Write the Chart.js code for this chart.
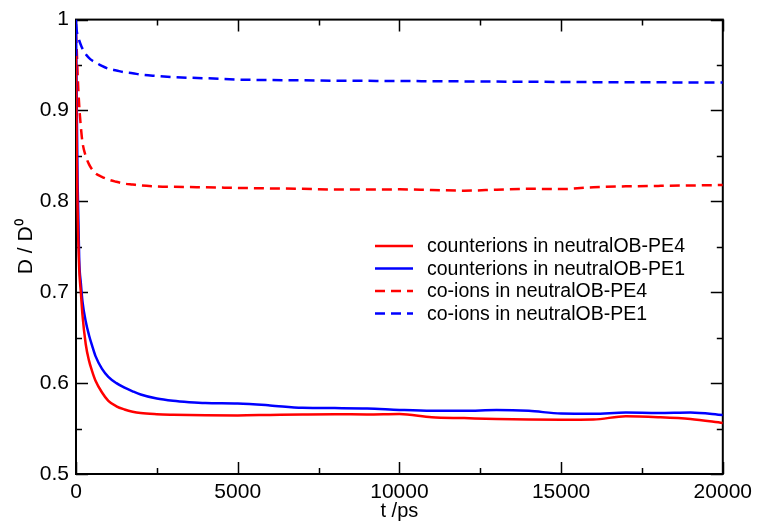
<!DOCTYPE html>
<html>
<head>
<meta charset="utf-8">
<script src="https://cdn.jsdelivr.net/npm/chart.js@4/dist/chart.umd.min.js"></script>
<style>
  html, body { margin: 0; padding: 0; background: #ffffff; }
  #wrap { width: 758px; height: 523px; }
</style>
</head>
<body>
<div id="wrap"><canvas id="c" width="758" height="523"></canvas></div>
<script>
// ---- data ----
const times = [0, 25, 50, 100, 150, 200, 300, 400, 500, 600, 800, 1000, 1250, 1500, 1750, 2000, 2500, 3000, 3500, 4000,
  5000, 6000, 7000, 8000, 9000, 10000, 11000, 12000, 13000, 14000, 15000, 16000, 17000, 18000, 19000, 20000];

const counterPE4 = [0.96, 0.85, 0.79, 0.725, 0.70, 0.675, 0.643, 0.625, 0.613, 0.603, 0.590, 0.5805, 0.5745, 0.571, 0.5685, 0.567, 0.5658, 0.5652, 0.5648, 0.5646,
  0.5645, 0.565, 0.5655, 0.5658, 0.5655, 0.566, 0.5625, 0.5615, 0.5605, 0.56, 0.5598, 0.56, 0.5635, 0.5625, 0.5605, 0.5562];

const counterPE1 = [1.0, 0.90, 0.82, 0.735, 0.71, 0.69, 0.668, 0.653, 0.641, 0.630, 0.616, 0.607, 0.600, 0.595, 0.591, 0.5875, 0.583, 0.5805, 0.579, 0.578,
  0.5775, 0.5755, 0.5728, 0.5725, 0.5722, 0.5705, 0.5695, 0.5695, 0.5705, 0.5695, 0.5665, 0.5662, 0.5676, 0.5672, 0.5678, 0.565];

const coPE4 = [0.985, 0.965, 0.94, 0.905, 0.882, 0.865, 0.85, 0.841, 0.835, 0.831, 0.827, 0.824, 0.8215, 0.8195, 0.8185, 0.8175, 0.8165, 0.816, 0.8157, 0.8155,
  0.8148, 0.8142, 0.8138, 0.813, 0.813, 0.8132, 0.8125, 0.8118, 0.8128, 0.8138, 0.8135, 0.8155, 0.8165, 0.817, 0.8175, 0.818];

const coPE1 = [0.995, 0.987, 0.983, 0.977, 0.972, 0.968, 0.962, 0.958, 0.955, 0.953, 0.949, 0.946, 0.944, 0.942, 0.941, 0.9395, 0.938, 0.9368, 0.936, 0.9355,
  0.934, 0.9335, 0.9332, 0.9328, 0.9326, 0.9325, 0.9322, 0.932, 0.9318, 0.9316, 0.9314, 0.9312, 0.931, 0.931, 0.9308, 0.9308];

const seriesLabels = ["counterions in neutralOB-PE4", "counterions in neutralOB-PE1", "co-ions in neutralOB-PE4", "co-ions in neutralOB-PE1"];
const xTickValues = [0, 5000, 10000, 15000, 20000];
const yTickValues = [0.5, 0.6, 0.7, 0.8, 0.9, 1];

function pts(vals) { return times.map((t, i) => ({ x: t, y: vals[i] })); }

const RED = '#ff0000', BLUE = '#0000ff';
const DASH = [10, 6];
const FONT = '"Liberation Sans", Arial, sans-serif';

// frame + inward mirrored ticks
const framePlugin = {
  id: 'frame',
  beforeDatasetsDraw(chart) {
    const { ctx, chartArea: a, scales } = chart;
    const xs = scales.x, ys = scales.y;
    ctx.save();
    ctx.strokeStyle = '#000';
    ctx.lineWidth = 1.5;
    ctx.beginPath();
    for (let v = 0; v <= 20000; v += 2500) {
      const px = Math.round(xs.getPixelForValue(v)) + 0.5;
      const len = (v % 5000 === 0) ? 12 : 6;
      ctx.moveTo(px, a.bottom); ctx.lineTo(px, a.bottom - len);
      ctx.moveTo(px, a.top); ctx.lineTo(px, a.top + len);
    }
    for (let k = 0; k <= 10; k++) {
      const v = 0.5 + k * 0.05;
      const py = Math.round(ys.getPixelForValue(v)) + 0.5;
      const len = (k % 2 === 0) ? 12 : 6;
      ctx.moveTo(a.left, py); ctx.lineTo(a.left + len, py);
      ctx.moveTo(a.right, py); ctx.lineTo(a.right - len, py);
    }
    ctx.stroke();
    ctx.lineWidth = 2;
    ctx.strokeRect(a.left, a.top, a.right - a.left, a.bottom - a.top);
    ctx.restore();
  }
};

// legend drawn inside the plot
const legendPlugin = {
  id: 'insideLegend',
  afterDraw(chart) {
    const { ctx } = chart;
    const x0 = 375, x1 = 413, tx = 427, y0 = 246, dy = 22.5;
    ctx.save();
    ctx.font = '19.5px ' + FONT;
    ctx.textBaseline = 'middle';
    ctx.fillStyle = '#000';
    chart.data.datasets.forEach((ds, i) => {
      const y = y0 + i * dy;
      ctx.strokeStyle = ds.borderColor;
      ctx.lineWidth = ds.borderWidth;
      ctx.setLineDash(ds.borderDash || []);
      ctx.beginPath();
      ctx.moveTo(x0, y); ctx.lineTo(x1, y);
      ctx.stroke();
      ctx.setLineDash([]);
      ctx.fillText(ds.label, tx, y + 1);
    });
    ctx.restore();
  }
};

const common = { pointRadius: 0, borderWidth: 2.5, fill: false, cubicInterpolationMode: 'monotone' };

new Chart(document.getElementById('c'), {
  type: 'line',
  data: {
    datasets: [
      Object.assign({ label: seriesLabels[0], data: pts(counterPE4), borderColor: RED }, common),
      Object.assign({ label: seriesLabels[1], data: pts(counterPE1), borderColor: BLUE }, common),
      Object.assign({ label: seriesLabels[2], data: pts(coPE4), borderColor: RED, borderDash: DASH }, common),
      Object.assign({ label: seriesLabels[3], data: pts(coPE1), borderColor: BLUE, borderDash: DASH }, common)
    ]
  },
  options: {
    responsive: false,
    devicePixelRatio: 1,
    animation: false,
    layout: { padding: { top: 18, right: 30, left: 0, bottom: 0 } },
    plugins: { legend: { display: false }, tooltip: { enabled: false } },
    scales: {
      x: {
        type: 'linear', min: 0, max: 20000,
        afterBuildTicks(s) { s.ticks = xTickValues.map(v => ({ value: v })); },
        afterFit(s) { s.height = 49; },
        grid: { display: false, drawTicks: false, tickLength: 0 }, border: { display: false },
        ticks: { color: '#000', padding: 6, maxRotation: 0, autoSkip: false,
          font: { family: FONT, size: 21 },
          callback: v => String(v) },
        title: { display: true, text: 't /ps', color: '#000', padding: { top: 0, bottom: 2 },
          font: { family: FONT, size: 20, lineHeight: 1 } }
      },
      y: {
        type: 'linear', min: 0.5, max: 1,
        afterBuildTicks(s) { s.ticks = yTickValues.map(v => ({ value: v })); },
        afterFit(s) { s.width = 76; },
        grid: { display: false, drawTicks: false, tickLength: 0 }, border: { display: false },
        ticks: { color: '#000', padding: 7, autoSkip: false,
          font: { family: FONT, size: 21 },
          callback: v => String(Math.round(v * 10) / 10) },
        title: { display: true, text: 'D / D\u2070', color: '#000', padding: { top: 16, bottom: 0 },
          font: { family: FONT, size: 21, lineHeight: 1 } }
      }
    }
  },
  plugins: [framePlugin, legendPlugin]
});
</script>
</body>
</html>
